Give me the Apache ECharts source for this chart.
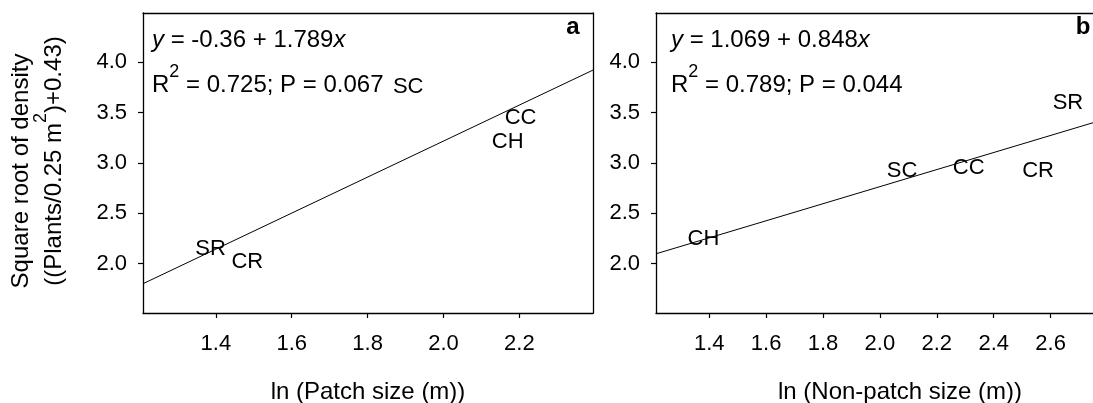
<!DOCTYPE html>
<html>
<head>
<meta charset="utf-8">
<script src="https://cdn.jsdelivr.net/npm/echarts@6/dist/echarts.min.js"></script>
<style>
html,body{margin:0;padding:0;background:#fff;}
#chart{width:1093px;height:403px;}
</style>
</head>
<body>
<div id="chart"></div>
<script>
// ---- data ----
const labelsA = ['SC', 'CC', 'CH', 'SR', 'CR'];
const xValsA = [1.907, 2.203, 2.169, 1.386, 1.483];
const yValsA = [3.76, 3.447, 3.209, 2.148, 2.014];

const labelsB = ['SC', 'CC', 'CR', 'SR', 'CH'];
const xValsB = [2.078, 2.312, 2.556, 2.661, 1.380];
const yValsB = [2.924, 2.951, 2.919, 3.598, 2.242];

// regression line end points (read at the plot edges)
const fitAX = [1.208, 2.394];
const fitAY = [1.801, 3.923];
const fitBX = [1.213, 2.749];
const fitBY = [2.098, 3.400];

const xTicksA = [1.4, 1.6, 1.8, 2.0, 2.2];
const xTicksB = [1.4, 1.6, 1.8, 2.0, 2.2, 2.4, 2.6];
const yTicks = [2.0, 2.5, 3.0, 3.5, 4.0];

const eqA = ['-0.36', '1.789'];
const statA = ['0.725', '0.067'];
const eqB = ['1.069', '0.848'];
const statB = ['0.789', '0.044'];

const xTitleA = 'ln (Patch size (m))';
const xTitleB = 'ln (Non-patch size (m))';
const yTitle1 = 'Square root of density';
const yTitle2 = ['((Plants/0.25 m', '2', ')+0.43)'];

// ---- chart ----
const FF = '"Liberation Sans", Arial, sans-serif';
const FS = 22;   // tick labels and point labels
const FT = 24;   // annotations and titles
const SUP = 18;
const chart = echarts.init(document.getElementById('chart'), null, {renderer: 'canvas'});

const lineStyleAxis = {color: '#000', width: 1.3};

function xAxisCfg(gi, min, max, ticks) {
  return {
    gridIndex: gi, type: 'value', min: min, max: max, position: 'bottom',
    axisLine: {show: true, onZero: false, lineStyle: lineStyleAxis},
    axisTick: {show: true, customValues: ticks, length: 5, lineStyle: {color: '#000', width: 1.2}},
    axisLabel: {customValues: ticks, formatter: v => v.toFixed(1), margin: 20, color: '#000', fontSize: FS, fontFamily: FF},
    splitLine: {show: false}
  };
}
function frameX(gi, min, max) {
  return {
    gridIndex: gi, type: 'value', min: min, max: max, position: 'top',
    axisLine: {show: true, onZero: false, lineStyle: lineStyleAxis},
    axisTick: {show: false}, axisLabel: {show: false}, splitLine: {show: false}
  };
}
function yAxisCfg(gi) {
  return {
    gridIndex: gi, type: 'value', min: 1.51, max: 4.49, position: 'left',
    axisLine: {show: true, onZero: false, lineStyle: lineStyleAxis},
    axisTick: {show: true, customValues: yTicks, length: 5, lineStyle: {color: '#000', width: 1.2}},
    axisLabel: {customValues: yTicks, formatter: v => v.toFixed(1), margin: 16, color: '#000', fontSize: FS, fontFamily: FF},
    splitLine: {show: false}
  };
}
function frameY(gi) {
  return {
    gridIndex: gi, type: 'value', min: 1.51, max: 4.49, position: 'right',
    axisLine: {show: true, onZero: false, lineStyle: lineStyleAxis},
    axisTick: {show: false}, axisLabel: {show: false}, splitLine: {show: false}
  };
}
function pts(names, xs, ys) {
  return names.map((n, i) => ({name: n, value: [xs[i], ys[i]]}));
}
function scatterSeries(idx, data) {
  return {
    type: 'scatter', xAxisIndex: idx, yAxisIndex: idx, data: data,
    symbol: 'circle', symbolSize: 1, itemStyle: {color: 'rgba(0,0,0,0)', opacity: 1},
    label: {show: true, position: 'inside', formatter: p => p.name, color: '#000', opacity: 1,
            fontSize: FS, fontFamily: FF, textBorderWidth: 0},
    emphasis: {disabled: true},
    silent: true, z: 3
  };
}
function fitSeries(idx, xs, ys) {
  return {
    type: 'line', xAxisIndex: idx, yAxisIndex: idx,
    data: xs.map((x, i) => [x, ys[i]]), symbol: 'none',
    lineStyle: {color: '#000', width: 1}, silent: true, z: 2
  };
}
function eqText(x, y, c) {
  return {
    type: 'text', x: x, y: y, silent: true,
    style: {
      text: '{i|y} = ' + c[0] + ' + ' + c[1] + '{i|x}',
      rich: {i: {fontStyle: 'italic', fontSize: FT, fontFamily: FF, fill: '#000'}},
      fontSize: FT, fontFamily: FF, fill: '#000', align: 'left', verticalAlign: 'middle'
    }
  };
}
function statText(x, y, s) {
  return {
    type: 'text', x: x, y: y, silent: true,
    style: {
      text: '{r|R}{s|2}{r| = ' + s[0] + '; P = ' + s[1] + '}',
      rich: {
        r: {fontSize: FT, fontFamily: FF, fill: '#000', lineHeight: 34, verticalAlign: 'bottom'},
        s: {fontSize: SUP, fontFamily: FF, fill: '#000', lineHeight: SUP, verticalAlign: 'top'}
      },
      fontSize: FT, fontFamily: FF, fill: '#000', align: 'left', verticalAlign: 'middle'
    }
  };
}

const option = {
  animation: false,
  backgroundColor: '#fff',
  grid: [
    {left: 143, top: 13, width: 450, height: 300, show: false, containLabel: false},
    {left: 656, top: 13, right: 0, height: 300, show: false, containLabel: false}
  ],
  xAxis: [xAxisCfg(0, 1.208, 2.394, xTicksA), xAxisCfg(1, 1.213, 2.749, xTicksB),
          frameX(0, 1.208, 2.394), frameX(1, 1.213, 2.749)],
  yAxis: [yAxisCfg(0), yAxisCfg(1), frameY(0)],
  series: [
    fitSeries(0, fitAX, fitAY),
    scatterSeries(0, pts(labelsA, xValsA, yValsA)),
    fitSeries(1, fitBX, fitBY),
    scatterSeries(1, pts(labelsB, xValsB, yValsB))
  ],
  graphic: [
    eqText(152, 40, eqA),
    statText(152, 80, statA),
    eqText(671, 40, eqB),
    statText(671, 80, statB),
    {type: 'text', x: 573, y: 27, silent: true, style: {text: 'a', fontSize: FT, fontWeight: 'bold', fontFamily: FF, fill: '#000', align: 'center', verticalAlign: 'middle'}},
    {type: 'text', x: 1083, y: 27, silent: true, style: {text: 'b', fontSize: FT, fontWeight: 'bold', fontFamily: FF, fill: '#000', align: 'center', verticalAlign: 'middle'}},
    {type: 'text', x: 368, y: 392, silent: true, style: {text: xTitleA, fontSize: FT, fontFamily: FF, fill: '#000', align: 'center', verticalAlign: 'middle'}},
    {type: 'text', x: 900, y: 392, silent: true, style: {text: xTitleB, fontSize: FT, fontFamily: FF, fill: '#000', align: 'center', verticalAlign: 'middle'}},
    {type: 'text', x: 21, y: 171, rotation: Math.PI / 2, silent: true, style: {text: yTitle1, fontSize: FT, fontFamily: FF, fill: '#000', align: 'center', verticalAlign: 'middle'}},
    {type: 'text', x: 49, y: 161, rotation: Math.PI / 2, silent: true, style: {
      text: '{n|' + yTitle2[0] + '}{s|' + yTitle2[1] + '}{n|' + yTitle2[2] + '}',
      rich: {
        n: {fontSize: FT, fontFamily: FF, fill: '#000', lineHeight: 34, verticalAlign: 'bottom'},
        s: {fontSize: SUP, fontFamily: FF, fill: '#000', lineHeight: SUP, verticalAlign: 'top'}
      },
      fontSize: FT, fontFamily: FF, fill: '#000', align: 'center', verticalAlign: 'middle'}}
  ]
};
chart.setOption(option);
</script>
</body>
</html>
